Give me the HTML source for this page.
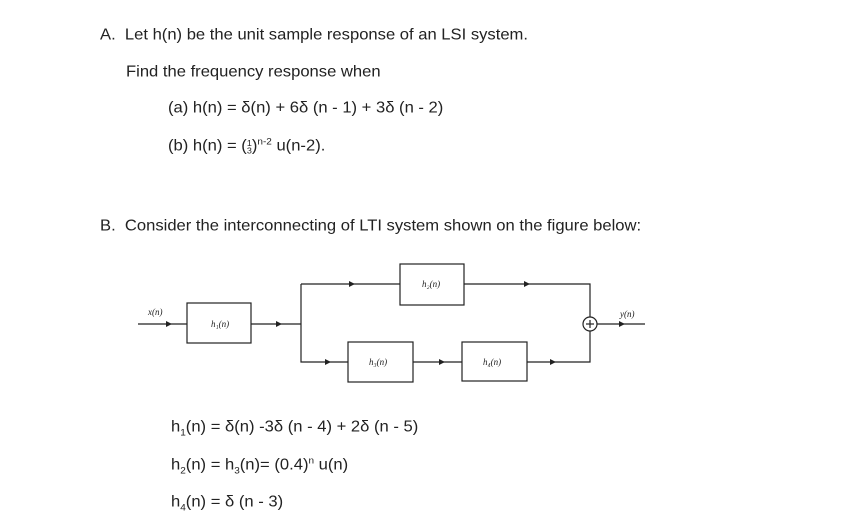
<!DOCTYPE html>
<html><head><style>
body{margin:0;width:862px;height:522px;background:#fff;font-family:"Liberation Sans",sans-serif;color:#222;font-size:16.6px;position:relative;overflow:hidden}
.t{position:absolute;white-space:nowrap;line-height:18px;transform:scaleY(0.92);transform-origin:left center}
sub,sup{font-size:10px;line-height:0}
</style></head><body>
<div class="t" style="left:100px;top:26px">A.&nbsp; Let h(n) be the unit sample response of an LSI system.</div>
<div class="t" style="left:126px;top:63px">Find the frequency response when</div>
<div class="t" style="left:168px;top:99px">(a) h(n) = δ(n) + 6δ (n - 1) + 3δ (n - 2)</div>
<div class="t" style="left:168px;top:137px">(b) h(n) = (<span style="display:inline-block;font-size:9px;line-height:8px;vertical-align:-3px;text-align:center">1<br>3</span>)<sup>n-2</sup> u(n-2).</div>
<div class="t" style="left:100px;top:217px">B.&nbsp; Consider the interconnecting of LTI system shown on the figure below:</div>
<div class="t" style="left:171px;top:418px">h<sub>1</sub>(n) = δ(n) -3δ (n - 4) + 2δ (n - 5)</div>
<div class="t" style="left:171px;top:456px">h<sub>2</sub>(n) = h<sub>3</sub>(n)= (0.4)<sup>n</sup> u(n)</div>
<div class="t" style="left:171px;top:493px">h<sub>4</sub>(n) = δ (n - 3)</div>
<svg width="862" height="522" style="position:absolute;left:0;top:0" font-family="Liberation Serif" font-style="italic" font-size="9" fill="none" stroke="#222" stroke-width="1.2">
<polyline points="138,324 187,324"/><rect x="187" y="303" width="64" height="40"/>
<polyline points="251,324 301,324"/>
<polyline points="301,284 400,284"/><polyline points="301,284 301,362 348,362"/>
<rect x="400" y="264" width="64" height="41"/>
<polyline points="464,284 590,284 590,317"/>
<rect x="348" y="342" width="65" height="40"/><polyline points="413,362 462,362"/>
<rect x="462" y="342" width="65" height="39"/>
<polyline points="527,362 590,362 590,331"/>
<circle cx="590" cy="324" r="7"/><line x1="586" y1="324" x2="594" y2="324"/><line x1="590" y1="320" x2="590" y2="328"/>
<polyline points="597,324 645,324"/>
<g fill="#222" stroke="none">
<polygon points="166,321 166,327 172,324"/><polygon points="276,321 276,327 282,324"/>
<polygon points="349,281 349,287 355,284"/><polygon points="524,281 524,287 530,284"/>
<polygon points="325,359 325,365 331,362"/><polygon points="439,359 439,365 445,362"/>
<polygon points="550,359 550,365 556,362"/><polygon points="619,321 619,327 625,324"/>
<text x="148" y="315">x(n)</text><text x="211" y="327">h₁(n)</text>
<text x="422" y="287">h₂(n)</text><text x="369" y="365">h₃(n)</text>
<text x="483" y="365">h₄(n)</text><text x="620" y="317">y(n)</text>
</g>
</svg>
</body></html>
